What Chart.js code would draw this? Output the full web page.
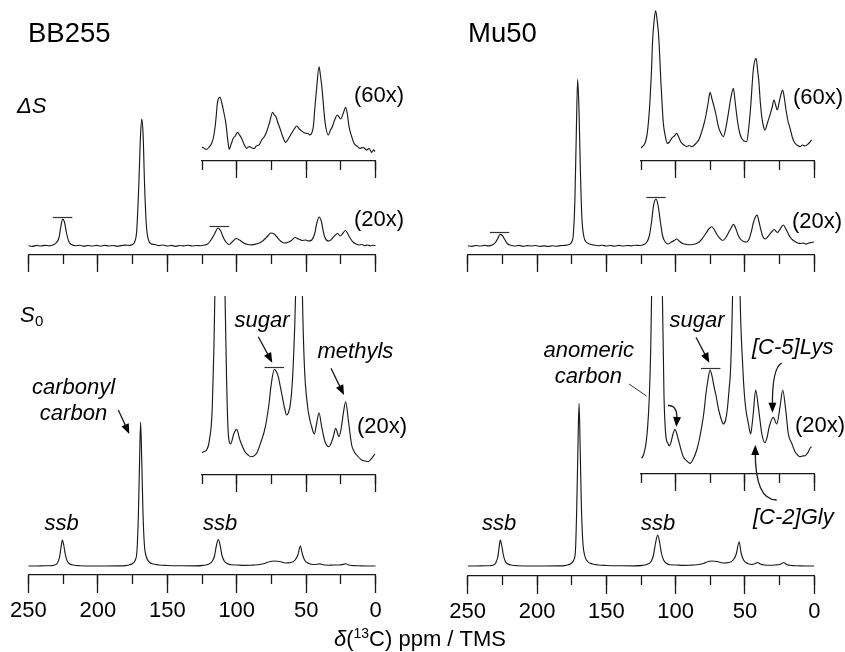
<!DOCTYPE html>
<html>
<head>
<meta charset="utf-8">
<script src="https://cdn.jsdelivr.net/npm/chart.js@4.4.1/dist/chart.umd.min.js"></script>
<style>
  html, body { margin: 0; padding: 0; background: #fff; }
  #fig { position: relative; width: 845px; height: 652px; overflow: hidden; }
  #fig canvas { position: absolute; left: 0; top: 0; }
</style>
</head>
<body>
<div id="fig"></div>
<script>
//----- spectra: [ppm, intensity] -----//
// BB255, difference spectrum dS (20x)
const bbDeltaS20 = [[250,0.3],[247,-0.4],[244,0.6],[241,0],[238,0.7],[235,0.2],[232,1.2],[230,3],[228,8],[226.5,20],[225.3,27],[224,24],[222.5,13],[221,5],[219,1.5],[216,0.3],[213,0.8],[210,-0.3],[207,0.5],[204,0],[201,0.6],[198,-0.2],[195,0.7],[192,0],[189,0.5],[186,-0.3],[183,0.4],[180,0.9],[177,0.6],[175,1.5],[173.5,4],[172,15],[170.5,60],[169.2,112],[168.3,127],[167.4,112],[166.3,60],[165,20],[163.5,6],[162,2.5],[159,1.5],[156,0.4],[153,1],[150,0],[147,0.6],[144,-0.3],[141,0.5],[138,0.1],[135,0.8],[132,0],[129,0.5],[126,0.3],[123,1],[121,2],[119,5],[116,12],[113.5,18],[111.5,15],[109.5,8],[107.5,3.5],[105.5,1.5],[103,4.5],[100.5,7.5],[98,6],[95,3],[92,1.5],[89,1.2],[86,2],[83,3.5],[80.5,6],[78,9.5],[75.5,13],[73,12],[71,9],[68.5,5],[66,3],[63.5,3.5],[61,5],[58,8.5],[55.5,7],[53,5.5],[50.5,6],[48,5],[46,6],[44,12],[42.5,22],[40.8,29],[39,24],[37.5,13],[35.5,6],[33.5,5],[31,8],[29,11],[27.5,12.5],[25.5,10],[23.5,13],[21.8,15.5],[20,12],[18,7],[16,3.5],[14,2],[12,1],[10,1.5],[8,0.3],[6,1],[4,0.2],[2,0.8],[0,0.3]];
// BB255, dS (60x) inset
const bbDeltaS60 = [[125,3],[123.3,1.5],[121.7,0.7],[119.8,3],[118,6.7],[116.7,13],[115.7,21.7],[114.7,35],[113.8,48.3],[112.1,52.7],[110.4,45],[109.2,37],[108,28.3],[106.6,12],[105.4,0.7],[104,6],[102.5,11.7],[101,14],[99.4,17.7],[98,15],[96.5,11.7],[94.5,5],[92.9,1.7],[91,3.5],[89.3,2.3],[87.5,1.5],[85.7,4.3],[84,5],[82.1,10],[80.3,13],[78.5,18.3],[76.3,28],[74.2,37.7],[73,35],[71.8,33.3],[70.3,27],[68.9,21.7],[66.8,13],[64.8,7.7],[62.6,12],[60.5,16.7],[58.6,21],[56.9,24],[55,21],[53.3,19],[51.8,17.5],[50.4,16.7],[48.8,16.5],[47.3,15],[46,17],[44.9,23.3],[43.6,45],[42.5,61.7],[40.8,83.3],[39.8,75],[38.9,65],[37.6,45],[36.5,28.3],[34.1,15],[32.5,20],[31.2,23.3],[29.3,31],[27.6,35],[25.2,31],[23.3,37],[21.6,42.7],[20.3,35],[19.2,23.3],[17.4,14],[15.6,6.7],[13.5,4],[11.3,1.7],[9,2.5],[6.5,0],[4.7,1.5],[2.9,-2.3],[1.5,0.3],[0.5,-1.7]];
// BB255, reference spectrum S0 (1x)
const bbS0 = [[250,0],[244,0],[238,0.2],[234,0.3],[231,1],[229,3],[227.5,9],[226.5,18],[225.5,26],[224.5,21],[223.3,11],[222,5],[220,2],[217,0.8],[213,0.3],[205,0],[195,0],[185,0.1],[180,0.4],[177,1.2],[175,2.5],[173,6],[171.8,15],[170.8,50],[170,100],[169.2,144],[168.4,108],[167.5,55],[166.5,22],[165,9],[163,4],[160,2],[156,1],[150,0.5],[140,0.2],[130,0.1],[124,0.6],[120,2],[117.5,5],[116,10],[114.7,20],[113.3,26.5],[112,21],[110.7,11],[109,5],[107,2.5],[104,1.2],[100,1],[95,0.6],[90,0.8],[85,1.2],[80,2.5],[76,4.5],[73,5],[69,4.5],[65,3],[61,3.5],[58,6],[56,11],[54.2,20],[52.8,12],[51,5.5],[48,2.5],[45,1.5],[42,1.8],[40.5,2.2],[38,1.2],[34,0.8],[30,1],[26,1],[23.5,1.6],[21.5,2.3],[19.5,1],[16,0.4],[12,0.2],[6,0],[0,0]];
// BB255, S0 (20x) inset
const bbS020 = [[125,7.3],[123.5,8.5],[121.7,10],[120.3,15],[119.3,23.3],[118.3,35],[117.6,53.3],[116.4,113.3],[115.7,170],[114,330],[112.1,520],[110.2,330],[108.5,170],[107.3,80],[106.1,26.7],[104.4,16],[102,26.7],[100.1,30.7],[97.7,20],[94.1,8.3],[91.8,5],[89.8,3.3],[87.7,4],[85.7,6.7],[82.1,20],[80.3,28],[78.5,40],[76.8,56],[75.4,73.3],[73,90.7],[70.1,83.3],[68.6,73],[67.2,63.3],[65.6,52],[64.1,45],[62.9,47],[61.7,53.3],[60.5,68],[59.3,96.7],[57.6,170],[56.3,300],[55.2,400],[54.1,300],[52.8,170],[51.4,96.7],[49,53.3],[47.5,41],[46.1,33.3],[44.2,26],[42.5,36.7],[40.8,47.3],[38.9,33.3],[36.5,18.3],[33.6,13.3],[30.5,23.3],[28.8,31.7],[26.4,23.3],[24.8,32],[23.3,46.7],[21.6,58.3],[19.7,40],[17.3,15],[15.5,8.5],[13.7,5],[10.1,0],[7.5,-1],[5.3,-1.7],[2.9,1.7],[0.5,6]];

// Mu50, dS (20x)
const muDeltaS20 = [[250,0.3],[247,-0.3],[244,0.5],[241,0],[238,0.6],[235,0.1],[232,1.3],[230,3.5],[228.3,7.5],[226.7,11.7],[225,10.5],[223.3,6.5],[221.5,2.5],[219,0.8],[216,0],[213,0.6],[210,-0.3],[207,0.4],[204,0],[201,0.5],[198,-0.4],[195,0.2],[192,-0.5],[189,0.3],[186,-0.2],[183,0.4],[180,0.6],[177,1.5],[175,4],[173.8,12],[172.7,45],[171.7,110],[170.7,166.7],[169.8,140],[168.8,80],[167.7,30],[166.3,10],[164.5,4],[162,2],[159,1],[156,0.3],[153,0.8],[150,0],[147,0.5],[144,-0.2],[141,0.6],[138,0],[135,0.5],[132,0.2],[129,0.8],[126,0.5],[123,1.5],[121,3.5],[119,10],[117.3,25],[116,40],[114.2,47],[112.6,40],[111,24],[109.4,10],[107.5,4],[105.5,2],[103,4],[101,5.5],[99.3,7],[97.5,5],[95,2.5],[92,1.5],[89,1.3],[86,2],[83,4],[80.5,8],[78,13],[75.8,17.5],[74,19.3],[72,16],[70,11],[68,7.5],[66,5.5],[64,8],[62,13],[60,18],[58.3,21.7],[56.5,17],[55,11],[53,6.5],[51,4.5],[49,4],[47,7],[45.5,14],[44,23],[42.5,29],[41.3,31],[40,25],[38.5,16],[37,9],[35.5,7],[34,8.5],[32,12],[30.5,14.5],[29,16.5],[27.5,14.5],[26.5,13.5],[25,16],[23.5,19.5],[22.3,21],[20.5,17],[19,13],[17.5,9],[16,6.5],[14,4.5],[12,3],[10,2.5],[8,3],[6,2],[4,3],[2,3.5],[0,4]];
// Mu50, dS (60x) inset
const muDeltaS60 = [[125.2,-0.3],[124,1.5],[122.8,3],[121.6,7],[120.5,14.7],[119.5,28],[118.5,48],[117.5,75],[116.6,108],[115.5,128],[114.4,137.3],[113.4,128],[112.4,114.7],[111.5,92],[110.6,64.7],[109.7,42],[108.9,24.7],[107.5,12],[106,4.7],[104.5,6],[102.9,9.7],[101,12],[99.3,14.7],[97.8,11],[96.4,6.3],[94,3],[92,1.3],[90.2,2.5],[88.4,1.3],[86.5,3],[84.8,5.3],[83,9],[81.2,16.3],[79.6,24],[78.1,33],[76.6,45],[75.2,55.7],[73.8,49],[72.3,41.3],[70.7,32],[69.2,21.3],[67.4,15],[65.6,11.3],[63.8,20],[62,34.7],[60.2,50],[58.4,59.7],[57,45],[55.5,28],[54,16],[52.4,9.7],[50.6,7],[48.8,6.3],[47.3,20],[45.9,41.3],[44,78],[42,89.7],[40.9,78],[39.9,64.7],[38.9,45],[37.9,31.3],[36.7,22],[35.6,18],[33.8,25],[32,33],[30.5,40],[29.1,48],[27.9,43],[26.7,38],[25.3,46],[24,54],[22.8,58],[21.6,50],[20.4,38],[19,27],[17.5,19.7],[15.7,10],[13.9,4.7],[12,2.5],[10.3,1.3],[8.5,3],[6.7,2],[4.5,4],[1.9,8]];
// Mu50, S0 (1x)
const muS0 = [[250,0],[244,0],[238,0.2],[234,0.3],[231.5,1],[229.8,3],[228.3,9],[227.4,18],[226.5,26],[225.5,21],[224.3,11],[223,5],[221,2],[218,0.8],[214,0.3],[205,0],[195,0],[185,0.1],[180,0.4],[177.5,1.2],[175.5,2.5],[173.5,6],[172.3,15],[171.4,55],[170.6,110],[169.7,162.7],[168.9,120],[168,60],[167,25],[165.5,10],[163.5,4.5],[160,2],[156,1],[150,0.5],[140,0.2],[130,0.1],[124,0.6],[120,2],[117.5,5],[116,11],[114.5,23],[113,31],[111.6,24],[110.3,13],[108.7,6],[106.5,2.5],[104,1.2],[100,1],[95,0.6],[90,0.8],[85,1.2],[80,2.5],[76.5,4.5],[74,5],[70,4.5],[66,3],[61.5,3.5],[58.5,6],[56.3,12],[54.2,24.3],[52.8,13],[51,6],[48,2.5],[45,1.5],[42.5,2.5],[41,3.5],[39,2],[36,1],[32,0.8],[28,1],[25,1.5],[23.5,2.4],[22,3.5],[20,1.5],[16,0.4],[12,0.2],[6,0],[0,0]];
// Mu50, S0 (20x) inset
const muS020 = [[124.5,1.7],[123,6],[121.4,16.7],[120.2,33],[119,63.3],[118,110],[117.3,170],[115.4,380],[113.5,620],[111.5,380],[109.6,170],[108.4,63.3],[107,23.3],[105.7,17],[104.6,14],[103.3,18],[102.1,25],[100.5,30.7],[98.1,20.7],[96.3,11],[94.5,3.3],[92,-1],[89.7,-3.3],[87,2],[84.8,10],[83,20],[81.2,33.3],[79.6,48],[78.1,66.7],[76.6,81],[75.2,90],[73.8,84],[72.3,73.3],[70.7,63],[69.2,51.7],[67.4,42],[65.6,36],[64,40],[62.8,50],[61.5,70],[60.3,93.3],[58.9,170],[57.5,320],[56.2,480],[55,320],[53.6,170],[51.6,93.3],[50.4,65],[49.3,50],[47.5,36],[45.9,26],[44.9,35],[44,46.7],[42.3,70],[40.4,53.3],[39,38],[37.9,26.7],[35.6,17.3],[34,23],[32.5,33.3],[29.6,42.7],[27.1,36],[24.7,53.3],[22.8,70],[20.6,50],[18.8,26.7],[16.3,16.7],[13.9,8.3],[12,5],[10.3,3.3],[8.5,4],[6.7,4.3],[4.8,7],[3.1,11.7],[1.9,13.3]];

//----- axis ticks -----//
const majorTicks = [250, 200, 150, 100, 50, 0];
const tickStep = 25;

const W = 845, H = 652;
const ink = '#1a1a1a';
const FONT = '"Liberation Sans", Arial, Helvetica, sans-serif';
Chart.defaults.font.family = FONT;

// small bar over a peak top (marks the scaled peaks)
const peakCaps = {
  id: 'peakCaps',
  afterDatasetsDraw(chart, args, opts) {
    if (!opts || !opts.at || !opts.at.length) return;
    const ctx = chart.ctx, x = chart.scales.x, y = chart.scales.y;
    const pts = chart.data.datasets[0].data;
    ctx.save();
    ctx.strokeStyle = '#333';
    ctx.lineWidth = 1.2;
    opts.at.forEach(c => {
      let top = -Infinity;
      pts.forEach(p => { if (Math.abs(p.x - c) < 4) top = Math.max(top, p.y); });
      const py = Math.round(y.getPixelForValue(top)) - 1.5;
      ctx.beginPath();
      ctx.moveTo(x.getPixelForValue(c + 7), py);
      ctx.lineTo(x.getPixelForValue(c - 7), py);
      ctx.stroke();
    });
    ctx.restore();
  }
};

const isMajor = c => !!c.tick && majorTicks.includes(c.tick.value);

function spectrum(points, box, extra) {
  const cv = document.createElement('canvas');
  cv.width = W; cv.height = H;
  document.getElementById('fig').appendChild(cv);
  const top = box.top || 0;
  const yMin = box.base - box.axis;
  return new Chart(cv, {
    type: 'line',
    data: {
      datasets: [{
        data: points.map(p => ({x: p[0], y: p[1]})),
        borderColor: ink,
        borderWidth: 1.15,
        pointRadius: 0,
        cubicInterpolationMode: 'monotone',
        fill: false
      }]
    },
    options: {
      responsive: false,
      animation: false,
      events: [],
      layout: {padding: {left: box.left, right: W - box.right, top: top, bottom: 0}},
      scales: {
        // main axis: line, long ticks at 50s, labels
        x: {
          type: 'linear', reverse: true, min: 0, max: box.max, position: 'bottom',
          afterFit: s => { s.height = H - box.axis; },
          border: {color: ink, width: 1.3},
          grid: {
            drawOnChartArea: false, tickLength: box.labels ? 18 : 17, tickWidth: 1.3,
            tickColor: c => isMajor(c) ? ink : 'rgba(0,0,0,0)'
          },
          ticks: {
            stepSize: tickStep, autoSkip: false, maxRotation: 0, display: !!box.labels,
            padding: 5, color: '#000', font: {size: 22},
            callback: v => majorTicks.includes(v) ? String(v) : ''
          }
        },
        // same axis again, only the short ticks at 25s
        xMinor: {
          type: 'linear', axis: 'x', reverse: true, min: 0, max: box.max,
          position: {y: yMin},
          border: {display: false},
          grid: {drawOnChartArea: false, tickLength: 9, tickWidth: 1.3, tickColor: ink},
          ticks: {stepSize: tickStep, autoSkip: false, display: false}
        },
        y: {display: false, min: yMin, max: box.base - top}
      },
      plugins: {legend: {display: false}, tooltip: {enabled: false}, peakCaps: {at: box.caps || []}}
    },
    plugins: [peakCaps].concat(extra || [])
  });
}

//----- labels, arrows -----//
function txt(ctx, s, x, y, size, italic, align) {
  ctx.font = (italic ? 'italic ' : '') + size + 'px ' + FONT;
  ctx.textAlign = align || 'left';
  ctx.textBaseline = 'alphabetic';
  ctx.fillText(s, x, y);
}
function head(ctx, tx, ty, fx, fy) {
  const a = Math.atan2(ty - fy, tx - fx), L = 10, w = 4;
  ctx.beginPath();
  ctx.moveTo(tx, ty);
  ctx.lineTo(tx - L * Math.cos(a) + w * Math.sin(a), ty - L * Math.sin(a) - w * Math.cos(a));
  ctx.lineTo(tx - L * Math.cos(a) - w * Math.sin(a), ty - L * Math.sin(a) + w * Math.cos(a));
  ctx.closePath();
  ctx.fill();
}
function arrow(ctx, x0, y0, x1, y1) {
  const a = Math.atan2(y1 - y0, x1 - x0);
  ctx.beginPath();
  ctx.moveTo(x0, y0);
  ctx.lineTo(x1 - 6 * Math.cos(a), y1 - 6 * Math.sin(a));
  ctx.stroke();
  head(ctx, x1, y1, x0, y0);
}
function curvedArrow(ctx, x0, y0, cx, cy, x1, y1) {
  const a = Math.atan2(y1 - cy, x1 - cx);
  ctx.beginPath();
  ctx.moveTo(x0, y0);
  ctx.quadraticCurveTo(cx, cy, x1 - 6 * Math.cos(a), y1 - 6 * Math.sin(a));
  ctx.stroke();
  head(ctx, x1, y1, cx, cy);
}

const figureText = {
  id: 'figureText',
  afterDraw(chart) {
    const ctx = chart.ctx;
    ctx.save();
    ctx.fillStyle = '#000';
    ctx.strokeStyle = ink;
    ctx.lineWidth = 1.3;
    // panel titles
    txt(ctx, 'BB255', 28, 41.5, 27.5);
    txt(ctx, 'Mu50', 468, 41.5, 27.5);
    txt(ctx, '\u0394S', 17, 113, 22, true);
    txt(ctx, 'S', 20, 321.5, 22, true);
    txt(ctx, '0', 35, 326, 15);
    // scale factors
    txt(ctx, '(60x)', 354, 101.5, 22);
    txt(ctx, '(20x)', 354, 226, 22);
    txt(ctx, '(60x)', 793, 104, 22);
    txt(ctx, '(20x)', 792, 228, 22);
    txt(ctx, '(20x)', 357, 433, 22);
    txt(ctx, '(20x)', 795, 431.5, 22);
    // assignments
    txt(ctx, 'carbonyl', 73.5, 394, 22, true, 'center');
    txt(ctx, 'carbon', 73.5, 420, 22, true, 'center');
    txt(ctx, 'ssb', 61.7, 530, 22, true, 'center');
    txt(ctx, 'ssb', 220, 530, 22, true, 'center');
    txt(ctx, 'ssb', 499, 530, 22, true, 'center');
    txt(ctx, 'ssb', 658, 530, 22, true, 'center');
    txt(ctx, 'sugar', 262, 326.5, 22, true, 'center');
    txt(ctx, 'sugar', 697, 326.5, 22, true, 'center');
    txt(ctx, 'methyls', 317.5, 358, 22, true);
    txt(ctx, 'anomeric', 588.7, 357, 22, true, 'center');
    txt(ctx, 'carbon', 588.3, 383, 22, true, 'center');
    txt(ctx, '[C-5]Lys', 752, 354, 22, true);
    txt(ctx, '[C-2]Gly', 753, 524, 22, true);
    // arrows
    arrow(ctx, 118.3, 410, 129.3, 434);
    arrow(ctx, 258.3, 336.7, 272.3, 362.7);
    arrow(ctx, 331, 368.3, 344, 395);
    arrow(ctx, 696, 337.3, 709.3, 362.7);
    curvedArrow(ctx, 668, 405.5, 678, 405, 676.3, 427);
    curvedArrow(ctx, 781.7, 363, 772, 368, 772.5, 412.7);
    curvedArrow(ctx, 776.7, 500, 755, 500, 755.3, 445);
    ctx.lineWidth = 0.9;
    ctx.beginPath();
    ctx.moveTo(629, 384);
    ctx.lineTo(646.5, 396);
    ctx.stroke();
    // axis title
    const parts = [['\u03B4', 22, true, 0], ['(', 22, false, 0], ['13', 14, false, -8], ['C) ppm / TMS', 22, false, 0]];
    let total = 0;
    parts.forEach(p => { ctx.font = (p[2] ? 'italic ' : '') + p[1] + 'px ' + FONT; total += ctx.measureText(p[0]).width; });
    let x = 420 - total / 2;
    parts.forEach(p => {
      ctx.font = (p[2] ? 'italic ' : '') + p[1] + 'px ' + FONT;
      ctx.textAlign = 'left';
      ctx.fillText(p[0], x, 646 + p[3]);
      x += ctx.measureText(p[0]).width;
    });
    ctx.restore();
  }
};

//----- BB255 -----//
spectrum(bbDeltaS20, {left: 28.3, right: 375.7, axis: 255, base: 246, max: 250, caps: [225.3, 112.5]});
spectrum(bbDeltaS60, {left: 202, right: 375.7, axis: 161, base: 150, max: 125});
spectrum(bbS020,     {left: 202, right: 375.7, axis: 475, base: 460, top: 296, max: 125, caps: [73]});
spectrum(bbS0,       {left: 28.3, right: 375.7, axis: 575, base: 566, max: 250, labels: true});
//----- Mu50 -----//
spectrum(muDeltaS20, {left: 467.7, right: 814.3, axis: 255, base: 246, max: 250, caps: [227, 114.2]});
spectrum(muDeltaS60, {left: 641, right: 814.3, axis: 161, base: 148, max: 125});
spectrum(muS020,     {left: 641, right: 814.3, axis: 474, base: 460, top: 296, max: 125, caps: [74.7]});
spectrum(muS0,       {left: 467.7, right: 814.3, axis: 576, base: 566, max: 250, labels: true}, [figureText]);
</script>
</body>
</html>
